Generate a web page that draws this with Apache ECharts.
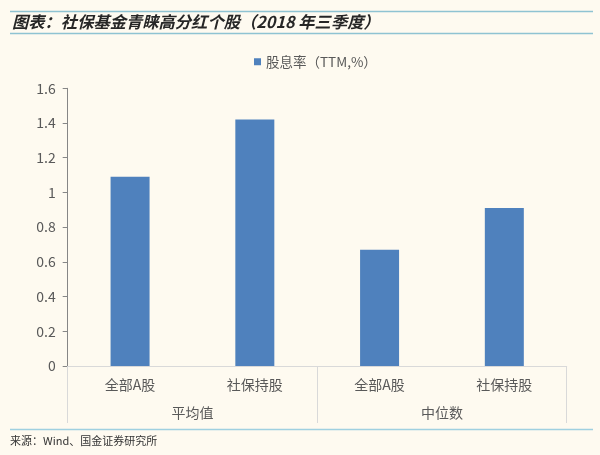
<!DOCTYPE html>
<html>
<head>
<meta charset="utf-8">
<script src="https://cdn.jsdelivr.net/npm/echarts@6/dist/echarts.min.js"></script>
<style>
html,body{margin:0;padding:0;background:#fefaf0;}
#c{width:600px;height:455px;}
</style>
</head>
<body>
<div id="c"></div>
<script>
const categories = ['全部A股', '社保持股', '全部A股', '社保持股'];
const groups = ['平均值', '中位数'];
const seriesName = '股息率（TTM,%）';
const values = [1.09, 1.42, 0.67, 0.91];
const titleText = '图表：社保基金青睐高分红个股（2018 年三季度）';
const sourceText = '来源：Wind、国金证券研究所';

const chart = echarts.init(document.getElementById('c'), null, {renderer: 'canvas'});
const font = '"Noto Sans CJK SC", "Noto Sans", sans-serif';
chart.setOption({
  backgroundColor: '#fefaf0',
  textStyle: {fontFamily: font},
  legend: {
    data: [seriesName],
    left: 249, top: 50,
    icon: 'rect', itemWidth: 7, itemHeight: 7, itemGap: 5,
    textStyle: {fontSize: 13.5, color: '#595959', fontFamily: font}
  },
  grid: {left: 67.7, right: 33.3, top: 88.3, bottom: 89},
  xAxis: [
    {
      type: 'category', data: categories, position: 'bottom',
      axisLine: {show: true, lineStyle: {color: '#d9d9d9', width: 1}},
      axisTick: {show: false},
      axisLabel: {color: '#595959', fontSize: 14, margin: 12, fontFamily: font}
    },
    {
      type: 'category', data: groups, position: 'bottom',
      axisLine: {show: false},
      axisTick: {show: true, length: 57, lineStyle: {color: '#d9d9d9', width: 1}},
      axisLabel: {color: '#595959', fontSize: 14, margin: 40, fontFamily: font}
    }
  ],
  yAxis: {
    type: 'value', min: 0, max: 1.6, interval: 0.2,
    axisLine: {show: true, lineStyle: {color: '#868686'}},
    axisTick: {show: true, length: 5, lineStyle: {color: '#868686'}},
    splitLine: {show: false},
    axisLabel: {color: '#595959', fontSize: 14, margin: 12, fontFamily: font}
  },
  series: [{
    name: seriesName, type: 'bar', xAxisIndex: 0,
    data: values, barWidth: 39,
    itemStyle: {color: '#4f81bd'}
  }],
  graphic: [
    {type: 'line', shape: {x1: 10, y1: 11.5, x2: 593, y2: 11.5}, style: {stroke: '#8fc3d2', lineWidth: 1.5}},
    {type: 'line', shape: {x1: 10, y1: 33.5, x2: 593, y2: 33.5}, style: {stroke: '#8fc3d2', lineWidth: 1.5}},
    {type: 'text', left: 12, top: 14, style: {text: titleText, font: 'italic bold 16.3px ' + font, fill: '#262626'}},
    {type: 'line', shape: {x1: 10, y1: 429.5, x2: 593, y2: 429.5}, style: {stroke: '#9fd0e0', lineWidth: 1.5}},
    {type: 'text', left: 10, top: 435, style: {text: sourceText, font: '11px ' + font, fill: '#333333'}}
  ]
});
</script>
</body>
</html>
